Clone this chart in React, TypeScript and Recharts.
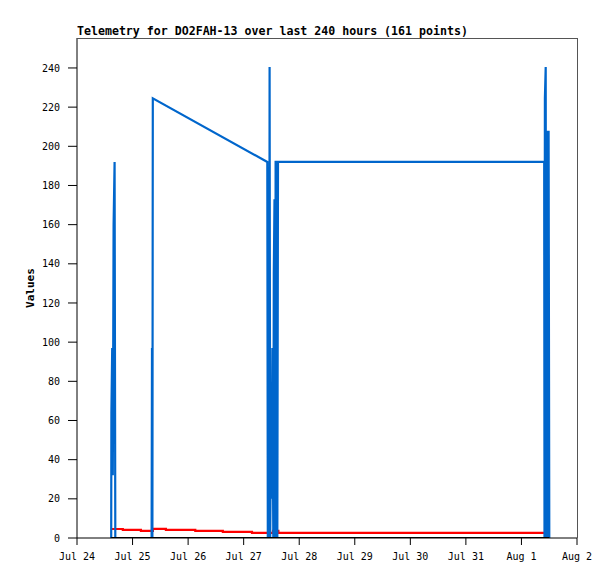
import { LineChart, Line, XAxis, YAxis } from 'recharts';

// hours since Jul 24 00:00
const blueHours = [
  14.77, 14.86, 15.21, 15.47, 15.81, 16.24, 16.55,
  32.23, 32.4, 32.57, 32.75,
  82.21, 82.43, 83.07, 83.2, 83.46, 83.81, 84.07, 84.41, 84.8, 85.02, 85.32, 85.67, 85.8, 86.23, 86.54, 86.83,
  201.83, 201.96, 202.13, 202.48, 202.69, 203.04, 203.47, 203.73, 204.03,
];
const blueValues = [
  0, 64, 97, 32, 160, 192, 0,
  0, 97, 0, 224.5,
  192, 0, 0, 240.5, 0, 58, 20, 97, 0, 135, 173, 0, 192, 192, 0, 192,
  192, 0, 224.5, 240.5, 0, 208, 0, 208, 0,
];

const redHours = [14.6, 19.8, 27.6, 32.8, 38.4, 51.1, 63.0, 75.6, 83.6, 84.7, 87.0, 201.8];
const redValues = [4.6, 4.1, 3.6, 4.7, 4.1, 3.6, 3.1, 2.6, 2.6, 3.6, 2.6, 2.6];

const blackHours = [14.8, 204.0];
const blackValues = [0, 0];

const xTicks = [0, 24, 48, 72, 96, 120, 144, 168, 192, 216];
const xTickLabels = ['Jul 24', 'Jul 25', 'Jul 26', 'Jul 27', 'Jul 28', 'Jul 29', 'Jul 30', 'Jul 31', 'Aug 1', 'Aug 2'];
const yTicks = [0, 20, 40, 60, 80, 100, 120, 140, 160, 180, 200, 220, 240];

const title = 'Telemetry for DO2FAH-13 over last 240 hours (161 points)';

const zip = (hs: number[], vs: number[]) => hs.map((h, i) => ({ t: h, v: vs[i] }));

const blueData = zip(blueHours, blueValues);
const redData = zip(redHours, redValues);
const blackData = zip(blackHours, blackValues);

const mono = '"DejaVu Sans Mono", monospace';

export default function App() {
  return (
    <div style={{ position: 'absolute', left: 0, top: 0, width: 615, height: 579, background: '#fff' }}>
      <LineChart width={615} height={579} margin={{ top: 38, right: 38, left: 17, bottom: 11 }}>
        <XAxis
          dataKey="t"
          type="number"
          domain={[0, 216]}
          ticks={xTicks}
          tickFormatter={(v: number) => xTickLabels[xTicks.indexOf(v)] ?? ''}
          allowDataOverflow
          height={30}
          tickSize={7}
          tickMargin={8}
          stroke="#000"
          tick={{ fill: '#000', fontSize: 10, fontFamily: mono }}
        />
        <YAxis
          dataKey="v"
          type="number"
          domain={[0, 255.3]}
          ticks={yTicks}
          allowDataOverflow
          width={60}
          tickSize={9}
          tickMargin={8}
          stroke="#000"
          tick={{ fill: '#000', fontSize: 10, fontFamily: mono }}
          label={{
            value: 'Values',
            angle: -90,
            position: 'insideLeft',
            offset: 13,
            style: { fill: '#000', fontSize: 11, fontWeight: 'bold', fontFamily: mono, textAnchor: 'middle' },
          }}
        />
        <Line data={redData} dataKey="v" type="stepAfter" stroke="#ff0000" strokeWidth={2.2} dot={false} isAnimationActive={false} />
        <Line data={blueData} dataKey="v" type="linear" stroke="#0066cc" strokeWidth={2.2} dot={false} isAnimationActive={false} />
        <Line data={blackData} dataKey="v" type="linear" stroke="#000" strokeWidth={2} dot={false} isAnimationActive={false} />
      </LineChart>
      <svg width={615} height={579} style={{ position: 'absolute', left: 0, top: 0, pointerEvents: 'none' }}>
        <line x1={77} y1={38.5} x2={577.5} y2={38.5} stroke="#555" strokeWidth={1} />
        <line x1={577.5} y1={38} x2={577.5} y2={538} stroke="#555" strokeWidth={1} />
        <text x={77} y={35} fontFamily={mono} fontSize={11.6} fontWeight="bold" fill="#000">
          {title}
        </text>
      </svg>
    </div>
  );
}
